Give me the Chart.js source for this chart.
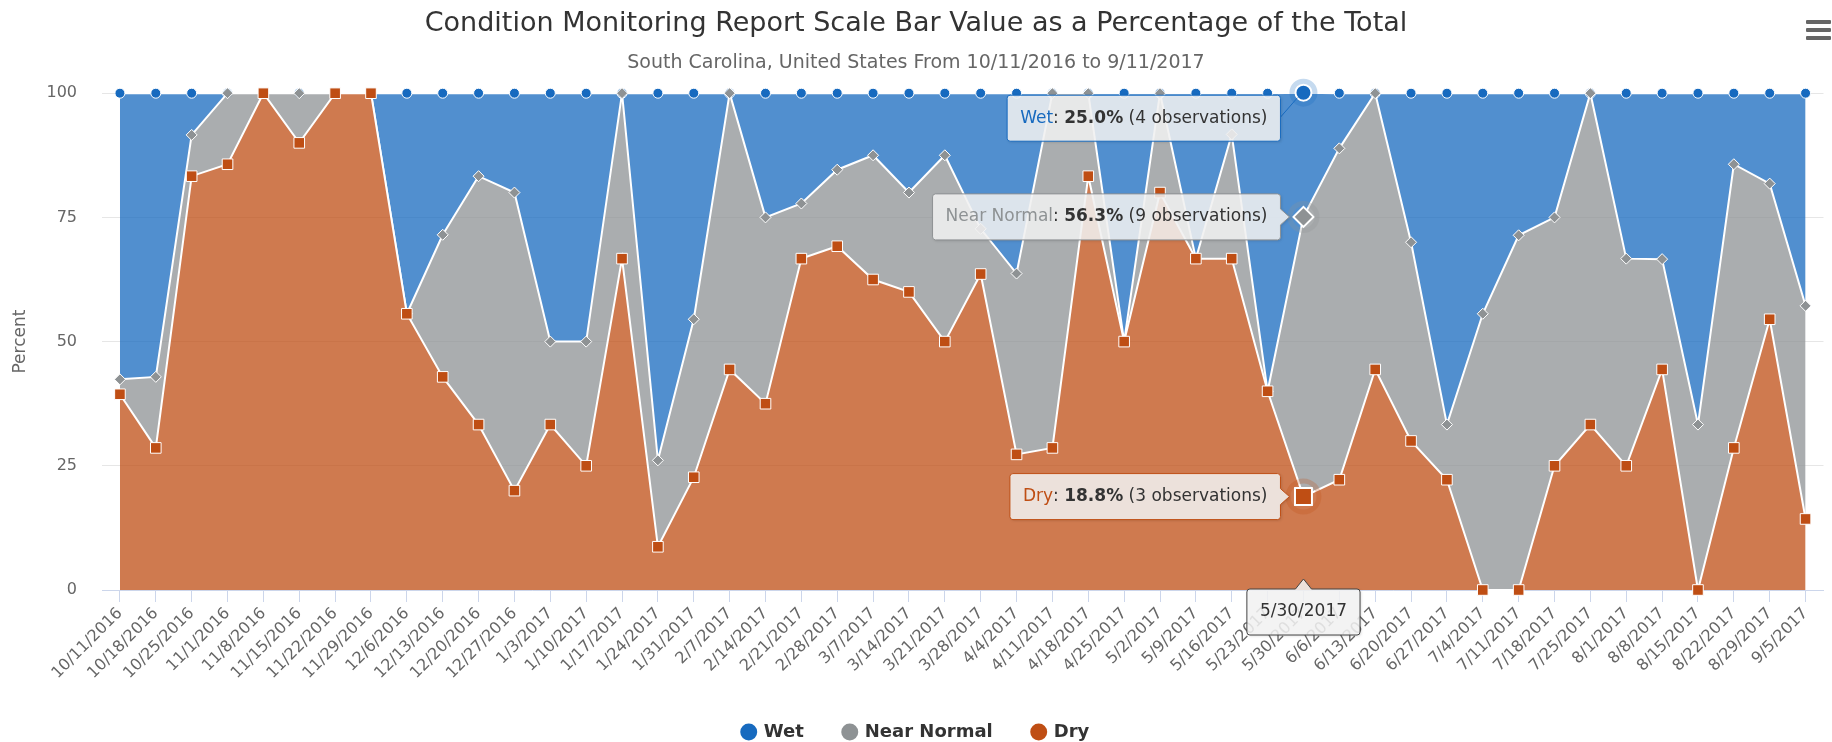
<!DOCTYPE html>
<html lang="en">
<head>
  <meta charset="UTF-8" />
  <title>Condition Monitoring Report</title>
  <script src="https://cdn.jsdelivr.net/npm/chart.js"></script>
  <style>
    body {
      margin: 0;
      background: #fff;
      font-family: "DejaVu Sans", sans-serif;
    }
    .chart-wrapper {
      position: relative;
      width: 1832px;
      height: 742px;
    }
    .menu {
      position: absolute;
      right: 1px;
      top: 20px;
      width: 25px;
    }
    .menu span {
      display: block;
      height: 4px;
      margin-bottom: 4px;
      background: #666;
      border-radius: 1px;
    }
  </style>
</head>
<body>
  <div class="chart-wrapper">
    <canvas id="cmChart"></canvas>
    <div class="menu"><span></span><span></span><span></span></div>
  </div>

  <script>
    // weekly report dates
    const dates = [
      '10/11/2016', '10/18/2016', '10/25/2016', '11/1/2016', '11/8/2016', '11/15/2016',
      '11/22/2016', '11/29/2016', '12/6/2016', '12/13/2016', '12/20/2016', '12/27/2016',
      '1/3/2017', '1/10/2017', '1/17/2017', '1/24/2017', '1/31/2017', '2/7/2017',
      '2/14/2017', '2/21/2017', '2/28/2017', '3/7/2017', '3/14/2017', '3/21/2017',
      '3/28/2017', '4/4/2017', '4/11/2017', '4/18/2017', '4/25/2017', '5/2/2017',
      '5/9/2017', '5/16/2017', '5/23/2017', '5/30/2017', '6/6/2017', '6/13/2017',
      '6/20/2017', '6/27/2017', '7/4/2017', '7/11/2017', '7/18/2017', '7/25/2017',
      '8/1/2017', '8/8/2017', '8/15/2017', '8/22/2017', '8/29/2017', '9/5/2017'
    ];

    // percent of observations per category (stacked: dry at the bottom)
    const dryPct = [
      39.4, 28.6, 83.3, 85.7, 100, 90.0, 100, 100, 55.6, 42.9, 33.3, 20.0,
      33.3, 25.0, 66.7, 8.7, 22.7, 44.4, 37.5, 66.7, 69.2, 62.5, 60.0, 50.0,
      63.6, 27.3, 28.6, 83.3, 50.0, 80.0, 66.7, 66.7, 40.0, 18.8, 22.2, 44.4,
      30.0, 22.2, 0, 0, 25.0, 33.3, 25.0, 44.4, 0, 28.6, 54.5, 14.3
    ];
    const nearNormalPct = [
      3.0, 14.3, 8.3, 14.3, 0, 10.0, 0, 0, 0, 28.6, 50.0, 60.0,
      16.7, 25.0, 33.3, 17.4, 31.8, 55.6, 37.5, 11.1, 15.4, 25.0, 20.0, 37.5,
      9.1, 36.4, 71.4, 16.7, 0, 20.0, 0, 25.0, 0, 56.3, 66.7, 55.6,
      40.0, 11.1, 55.6, 71.4, 50.0, 66.7, 41.7, 22.2, 33.3, 57.1, 27.3, 42.9
    ];
    const wetPct = [
      57.6, 57.1, 8.4, 0, 0, 0, 0, 0, 44.4, 28.5, 16.7, 20.0,
      50.0, 50.0, 0, 73.9, 45.5, 0, 25.0, 22.2, 15.4, 12.5, 20.0, 12.5,
      27.3, 36.3, 0, 0, 50.0, 0, 33.3, 8.3, 60.0, 25.0, 11.1, 0,
      30.0, 66.7, 44.4, 28.6, 25.0, 0, 33.3, 33.4, 66.7, 14.3, 18.2, 42.8
    ];

    // hovered week shown in the split tooltip
    const hoverDate = '5/30/2017';
    const hoverObservations = [3, 9, 4]; // Dry, Near Normal, Wet
    const hoverIndex = dates.indexOf(hoverDate);

    const FONT = '"DejaVu Sans", sans-serif';
    const wetColor = '#176abf';
    const nearNormalColor = '#8e9294';
    const dryColor = '#bf4e14';

    function series(label, data, color, fillColor, pointStyle, r, hoverR, fill) {
      return {
        label: label,
        data: data,
        baseColor: color,
        fill: fill,
        backgroundColor: fillColor,
        borderColor: '#ffffff',
        borderWidth: 2,
        tension: 0,
        pointStyle: pointStyle,
        pointBackgroundColor: color,
        pointBorderColor: '#ffffff',
        pointBorderWidth: c => c.dataIndex === hoverIndex ? 2 : 1,
        pointRadius: c => c.dataIndex === hoverIndex ? hoverR : r,
        pointHoverRadius: c => c.dataIndex === hoverIndex ? hoverR : r,
        clip: false
      };
    }

    function tipPath(ctx, x, y, w, h, r, arrow) {
      ctx.beginPath();
      ctx.moveTo(x + r, y);
      if (arrow && arrow.side === 'top') {
        ctx.lineTo(arrow.at - 8, y);
        ctx.lineTo(arrow.at, y - 10);
        ctx.lineTo(arrow.at + 8, y);
      }
      ctx.lineTo(x + w - r, y);
      ctx.arcTo(x + w, y, x + w, y + r, r);
      if (arrow && arrow.side === 'right') {
        ctx.lineTo(x + w, arrow.at - 8);
        ctx.lineTo(x + w + 9, arrow.at);
        ctx.lineTo(x + w, arrow.at + 8);
      }
      ctx.lineTo(x + w, y + h - r);
      ctx.arcTo(x + w, y + h, x + w - r, y + h, r);
      ctx.lineTo(x + r, y + h);
      ctx.arcTo(x, y + h, x, y + h - r, r);
      ctx.lineTo(x, y + r);
      ctx.arcTo(x, y, x + r, y, r);
      ctx.closePath();
    }

    function partsWidth(ctx, parts) {
      let w = 0;
      parts.forEach(p => {
        ctx.font = (p.bold ? 'bold ' : '') + '17px ' + FONT;
        w += ctx.measureText(p.text).width;
      });
      return w;
    }

    function drawBox(ctx, left, top, w, h, border, arrow) {
      ctx.save();
      ctx.shadowColor = 'rgba(0,0,0,0.18)';
      ctx.shadowBlur = 3;
      ctx.shadowOffsetX = 1;
      ctx.shadowOffsetY = 1;
      tipPath(ctx, left, top, w, h, 3, arrow);
      ctx.fillStyle = 'rgba(247,247,247,0.85)';
      ctx.fill();
      ctx.restore();
      tipPath(ctx, left, top, w, h, 3, arrow);
      ctx.lineWidth = 1;
      ctx.strokeStyle = border;
      ctx.stroke();
    }

    function drawParts(ctx, parts, x, cy) {
      ctx.textBaseline = 'middle';
      ctx.textAlign = 'left';
      parts.forEach(p => {
        ctx.font = (p.bold ? 'bold ' : '') + '17px ' + FONT;
        ctx.fillStyle = p.color;
        ctx.fillText(p.text, x, cy);
        x += ctx.measureText(p.text).width;
      });
    }

    // halo rings + split tooltip for the hovered week
    const hoverTips = {
      id: 'hoverTips',
      afterDatasetsDraw(chart) {
        const ctx = chart.ctx;
        chart.data.datasets.forEach((ds, i) => {
          const el = chart.getDatasetMeta(i).data[hoverIndex];
          const r = el.options.radius;
          ctx.save();
          ctx.beginPath();
          ctx.arc(el.x, el.y, r + 6, 0, Math.PI * 2);
          ctx.arc(el.x, el.y, r + 1, 0, Math.PI * 2, true);
          ctx.fillStyle = ds.baseColor;
          ctx.globalAlpha = 0.25;
          ctx.fill('evenodd');
          ctx.restore();
        });
      },
      afterDraw(chart) {
        const ctx = chart.ctx;
        const area = chart.chartArea;
        const h = 46;
        chart.data.datasets.forEach((ds, i) => {
          const el = chart.getDatasetMeta(i).data[hoverIndex];
          const parts = [
            { text: ds.label, color: ds.baseColor },
            { text: ': ', color: '#333' },
            { text: ds.data[hoverIndex].toFixed(1) + '%', color: '#333', bold: true },
            { text: ' (' + hoverObservations[i] + ' observations)', color: '#333' }
          ];
          const w = partsWidth(ctx, parts) + 26;
          const right = el.x - 23;
          if (ds.label === 'Wet') {
            const top = area.top + 2;
            ctx.beginPath();
            ctx.moveTo(right, top + 22);
            ctx.lineTo(el.x - 6, el.y + 5);
            ctx.strokeStyle = ds.baseColor;
            ctx.lineWidth = 1;
            ctx.stroke();
            drawBox(ctx, right - w, top, w, h, ds.baseColor, null);
            drawParts(ctx, parts, right - w + 13, top + h / 2);
          } else {
            const top = el.y - h / 2;
            drawBox(ctx, right - w, top, w, h, ds.baseColor, { side: 'right', at: el.y });
            drawParts(ctx, parts, right - w + 13, el.y);
          }
        });

        // x value label under the axis
        const x = chart.scales.x.getPixelForValue(hoverIndex);
        const label = dates[hoverIndex];
        ctx.font = '17px ' + FONT;
        const lw = ctx.measureText(label).width + 26;
        const top = area.bottom - 1;
        drawBox(ctx, x - lw / 2, top, lw, h, '#444', { side: 'top', at: x });
        ctx.fillStyle = '#333';
        ctx.textAlign = 'center';
        ctx.textBaseline = 'middle';
        ctx.fillText(label, x, top + h / 2);
      }
    };

    const ctx = document.getElementById('cmChart').getContext('2d');

    new Chart(ctx, {
      type: 'line',
      data: {
        labels: dates,
        datasets: [
          series('Dry', dryPct, dryColor, 'rgba(191,78,20,0.75)', 'rect', 7.5, 12, 'origin'),
          series('Near Normal', nearNormalPct, nearNormalColor, 'rgba(142,146,148,0.75)', 'rectRot', 5.5, 10, '-1'),
          series('Wet', wetPct, wetColor, 'rgba(23,106,191,0.75)', 'circle', 5, 8, '-1')
        ]
      },
      options: {
        responsive: true,
        maintainAspectRatio: false,
        animation: false,
        events: [],
        layout: { padding: { top: 0, right: 0, bottom: -9, left: 0 } },
        scales: {
          x: {
            offset: true,
            grid: { drawOnChartArea: false, offset: false, color: '#ccd6eb', tickLength: 12 },
            border: { color: '#ccd6eb' },
            ticks: {
              autoSkip: false,
              minRotation: 45,
              maxRotation: 45,
              padding: 2,
              color: '#666',
              font: { family: FONT, size: 16 }
            },
            afterFit(scale) { scale.height = 93; }
          },
          y: {
            stacked: true,
            min: 0,
            max: 100,
            grid: { color: '#e6e6e6', drawTicks: false },
            border: { display: false },
            ticks: {
              stepSize: 25,
              padding: 25,
              color: '#666',
              font: { family: FONT, size: 16 }
            },
            title: {
              display: true,
              text: 'Percent',
              color: '#666',
              padding: { top: 10, bottom: 0 },
              font: { family: FONT, size: 17 }
            },
            afterFit(scale) { scale.width = 102; }
          }
        },
        plugins: {
          title: {
            display: true,
            text: 'Condition Monitoring Report Scale Bar Value as a Percentage of the Total',
            color: '#333',
            padding: { top: 8, bottom: 6 },
            font: { family: FONT, size: 27, weight: 'normal' }
          },
          subtitle: {
            display: true,
            text: 'South Carolina, United States From 10/11/2016 to 9/11/2017',
            color: '#666',
            padding: { top: 5, bottom: 19 },
            font: { family: FONT, size: 19 }
          },
          legend: {
            position: 'bottom',
            reverse: true,
            labels: {
              usePointStyle: true,
              pointStyle: 'circle',
              boxWidth: 12,
              boxHeight: 12,
              padding: 40,
              color: '#333',
              font: { family: FONT, size: 18, weight: 'bold' },
              generateLabels(chart) {
                const items = Chart.defaults.plugins.legend.labels.generateLabels(chart);
                items.forEach(it => {
                  const c = chart.data.datasets[it.datasetIndex].baseColor;
                  it.fillStyle = c;
                  it.strokeStyle = c;
                  it.lineWidth = 0;
                  it.pointStyle = 'circle';
                });
                return items;
              }
            }
          },
          tooltip: { enabled: false }
        }
      },
      plugins: [hoverTips]
    });
  </script>
</body>
</html>
